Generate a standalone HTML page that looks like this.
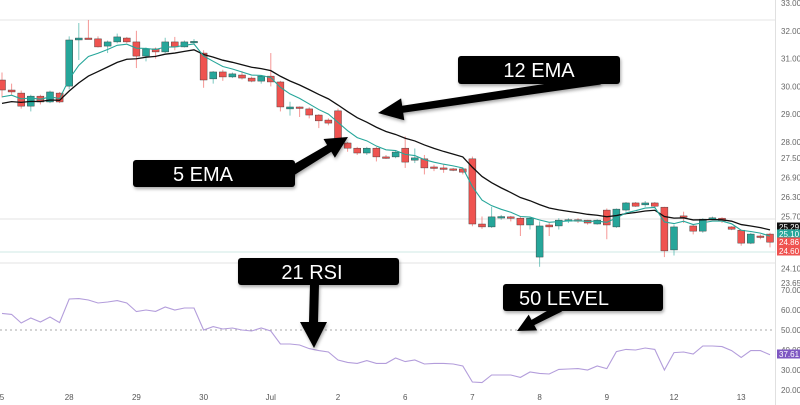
<!DOCTYPE html>
<html><head><meta charset="utf-8"><style>
html,body{margin:0;padding:0;background:#fff;}
svg{display:block;font-family:"Liberation Sans",sans-serif;}
</style></head><body>
<svg id="chart" width="800" height="405" viewBox="0 0 800 405">
<g id="grid"></g>
<g id="candles"></g>
<g id="emas"></g>
<g id="rsi"></g>
<g id="axes"></g>
<g id="notes"></g>
</svg>
<script>
const opens  =[30.23,29.87,29.76,29.29,29.65,29.44,29.76,30.01,31.67,31.74,31.71,31.45,31.60,31.74,31.60,31.09,31.35,31.24,31.60,31.42,31.60,31.20,30.27,30.52,30.34,30.41,30.30,30.19,30.37,30.16,29.19,29.26,29.19,28.97,28.79,29.12,27.97,27.81,27.66,27.81,27.54,27.54,27.81,27.44,27.48,27.23,27.20,27.17,27.17,27.48,25.47,25.38,25.69,25.69,25.65,25.44,24.45,25.44,25.41,25.59,25.60,25.59,25.47,25.90,25.38,25.90,26.12,26.06,26.12,25.99,24.67,25.72,25.41,25.25,25.65,25.65,25.38,25.28,24.88,25.10,25.16];
const highs  =[30.50,30.10,29.85,29.70,29.70,29.85,29.80,31.80,32.28,32.39,31.80,31.65,31.90,31.78,32.00,31.40,31.40,31.75,31.78,31.65,31.70,31.30,30.55,30.60,30.50,30.55,30.35,30.40,31.20,30.20,29.45,29.28,29.25,29.00,28.85,29.20,28.00,27.85,27.85,27.85,27.60,27.75,28.20,27.80,27.60,27.30,27.30,27.20,27.20,27.55,25.70,26.00,25.75,25.72,25.70,25.70,25.55,25.50,25.65,25.65,25.65,25.60,25.62,25.95,25.95,26.15,26.15,26.18,26.15,26.00,25.45,25.85,25.45,25.65,25.70,25.68,25.40,25.30,25.20,25.15,25.20];
const lows   =[29.60,29.70,29.20,29.10,29.35,29.40,29.40,29.90,30.95,31.70,31.40,31.20,31.55,31.55,30.66,30.90,31.00,31.20,31.30,31.40,31.50,29.95,30.10,30.20,30.30,30.25,30.15,30.10,30.00,29.10,28.95,28.90,28.85,28.50,28.60,28.00,27.70,27.60,27.60,27.40,27.48,27.50,27.20,27.35,27.00,27.10,27.05,27.10,27.00,25.40,25.32,25.35,25.60,25.55,25.10,25.30,24.15,25.10,25.30,25.50,25.50,25.45,25.45,25.00,25.35,25.85,26.00,26.00,25.95,24.45,24.50,25.50,25.15,25.20,25.60,25.50,25.28,24.80,24.85,25.00,24.75];
const closes =[29.87,29.80,29.29,29.65,29.44,29.80,29.44,31.67,31.74,31.72,31.42,31.60,31.78,31.60,31.09,31.35,31.24,31.60,31.42,31.60,31.62,30.23,30.52,30.34,30.45,30.30,30.19,30.37,30.16,29.26,29.26,29.25,28.97,28.76,28.68,28.11,27.81,27.66,27.81,27.54,27.53,27.69,27.38,27.51,27.20,27.22,27.19,27.16,27.07,25.47,25.38,25.69,25.70,25.65,25.44,25.65,25.41,25.38,25.59,25.60,25.59,25.50,25.59,25.44,25.93,26.12,26.02,26.12,26.02,24.64,25.38,25.70,25.25,25.62,25.66,25.56,25.31,24.88,25.16,25.09,24.91];
const rsiValues=[58.3,57.8,53.5,56,54,56.5,53.7,65.5,65.7,65,63.5,64,64.7,63.5,59.2,60,59.3,61.5,60,61,61,50,51.7,50.5,51,50,49.5,51,49.5,43,43,42.5,40.7,39.7,39,35,33.8,33.3,34.7,33.3,33.3,36,34.2,35,33,33.3,33.3,33,32,24,23.7,27.5,27.5,27.5,26.3,29,28.3,28,30.3,30.5,30.7,30,32,30.7,39.2,40.3,40,41,40.3,30,38.7,39,38,42,42,41.7,39.7,36.3,39.7,39.7,37.61];
const priceTicks=["33.00","32.00","31.00","30.00","29.00","28.00","27.50","26.90","26.30","25.70","24.10","23.65"];
const rsiTicks=["70.00","60.00","50.00","40.00","30.00","20.00"];
const dayLabels=["5","28","29","30","Jul","2","6","7","8","9","12","13"];
const ema12Seed=29.3, ema5Seed=29.5;

const NS="http://www.w3.org/2000/svg";
function mk(tag,attrs,parent){const e=document.createElementNS(NS,tag);for(const k in attrs)e.setAttribute(k,attrs[k]);parent.appendChild(e);return e;}
const X=i=>2+9.6*i;
const pDom=[33,28,23.65], pRng=[3,142,283];
function Y(p){ if(p>=pDom[1]) return pRng[0]+(pDom[0]-p)/(pDom[0]-pDom[1])*(pRng[1]-pRng[0]); return pRng[1]+(pDom[1]-p)/(pDom[1]-pDom[2])*(pRng[2]-pRng[1]); }
const R=v=>330-(v-50)*2;

const grid=document.getElementById('grid');
[[20,'#e6e6e6'],[219,'#e3e3e3'],[252,'#cfe8e6'],[263,'#e3e3e3']].forEach(([y,c])=>{
  const l=mk('line',{x1:0,x2:775,y1:y,y2:y,stroke:c,'stroke-width':1},grid);
  
  
});
const axl=mk('line',{x1:775.5,x2:775.5,y1:0,y2:405,stroke:'#e0e0e0'},grid);



const cg=document.getElementById('candles');
for(let i=0;i<closes.length;i++){
  const up=closes[i]>=opens[i], col=up?'#26a69a':'#ef5350';
  const g=mk('g',{},cg);
  
  
  mk('line',{x1:X(i),x2:X(i),y1:Y(highs[i]),y2:Y(lows[i]),stroke:col,'stroke-width':1,opacity:0.6},g);
  const t=Y(Math.max(opens[i],closes[i])), b=Y(Math.min(opens[i],closes[i]));
  mk('rect',{x:X(i)-3.5,y:t,width:7,height:Math.max(1.5,b-t),fill:col,stroke:'#333','stroke-width':0.4},g);
}
function ema(n,seed){const a=2/(n+1);let e=seed;return closes.map(c=>(e=e+a*(c-e)));}
const e12=ema(12,ema12Seed), e5=ema(5,ema5Seed);
const eg=document.getElementById('emas');
const l12=mk('polyline',{points:e12.map((v,i)=>X(i)+','+Y(v)).join(' '),fill:'none',stroke:'#111','stroke-width':1.3},eg);


const l5=mk('polyline',{points:e5.map((v,i)=>X(i)+','+Y(v)).join(' '),fill:'none',stroke:'#26a69a','stroke-width':1.1},eg);



const rg=document.getElementById('rsi');
const l50=mk('line',{x1:0,x2:775,y1:R(50),y2:R(50),stroke:'#aaa','stroke-dasharray':'2,3'},rg);


const rl=mk('polyline',{points:rsiValues.map((v,i)=>X(i)+','+R(v)).join(' '),fill:'none',stroke:'#b39ddb','stroke-width':1.1},rg);



const ax=document.getElementById('axes');
priceTicks.forEach(t=>{
  const e=mk('text',{x:781,y:Y(parseFloat(t))+3,'font-size':8,fill:'#666'},ax);e.textContent=t;
  
  
});
rsiTicks.forEach(t=>{
  const e=mk('text',{x:781,y:R(parseFloat(t))+3,'font-size':8,fill:'#666'},ax);e.textContent=t;
  
  
});
dayLabels.forEach((t,k)=>{
  const e=mk('text',{x:X(k*7),y:400,'font-size':8,fill:'#555','text-anchor':'middle'},ax);e.textContent=t;
  
  
});
function tag(v,y,bg,name){
  const g=mk('g',{},ax);
  
  
  mk('rect',{x:777,y:y-4.5,width:23,height:9,fill:bg},g);
  const t=mk('text',{x:779,y:y+3,'font-size':8,fill:'#fff'},g);t.textContent=v;
}
tag(e12[e12.length-1].toFixed(2),227,'#111','ema-12-price-tag');
tag(e5[e5.length-1].toFixed(2),234,'#26a69a','ema-5-price-tag');
tag('24.86',242,'#ef5350','last-price-tag');
tag('24.60',251,'#ef5350','low-price-tag');
tag(rsiValues[rsiValues.length-1].toFixed(2),354,'#7e57c2','rsi-value-tag');
</script>
<svg style="position:absolute;left:0;top:0" width="800" height="405">
<defs><filter id="sh" x="-10%" y="-10%" width="130%" height="140%"><feDropShadow dx="1" dy="2" stdDeviation="1.5" flood-opacity="0.35"/></filter></defs>
<g fill="#000" filter="url(#sh)">
<polygon points="599.3,75.5 402.2,105.8 401.1,98.4 378,113 404.3,120.2 403.2,112.8 600.7,84.5"/>
<polygon points="282.4,170.7 327.1,145 323.5,139 348,137 334.9,157.8 331.3,151.8 287.6,179.3"/>
<polygon points="310,284 319,284 318,322 327,322 314,348 300,322 309,322"/>
<polygon points="558.1,304.5 531.5,319.9 528.7,314.6 517,331 537.1,330.4 534.3,325.1 561.9,311.5"/>
</g>
<g font-family="Liberation Sans, sans-serif" font-size="20" fill="#fff" text-anchor="middle">
<g><rect x="458" y="56" width="162" height="28" rx="3" fill="#000" filter="url(#sh)"/><text x="539" y="77">12 EMA</text></g>
<g><rect x="133" y="160" width="162" height="27" rx="3" fill="#000" filter="url(#sh)"/><text x="203" y="181">5 EMA</text></g>
<g><rect x="238" y="258" width="161" height="27" rx="3" fill="#000" filter="url(#sh)"/><text x="312" y="279">21 RSI</text></g>
<g><rect x="503" y="284" width="160" height="27" rx="3" fill="#000" filter="url(#sh)"/><text x="564" y="305">50 LEVEL</text></g>
</g>
</svg>
</body></html>
